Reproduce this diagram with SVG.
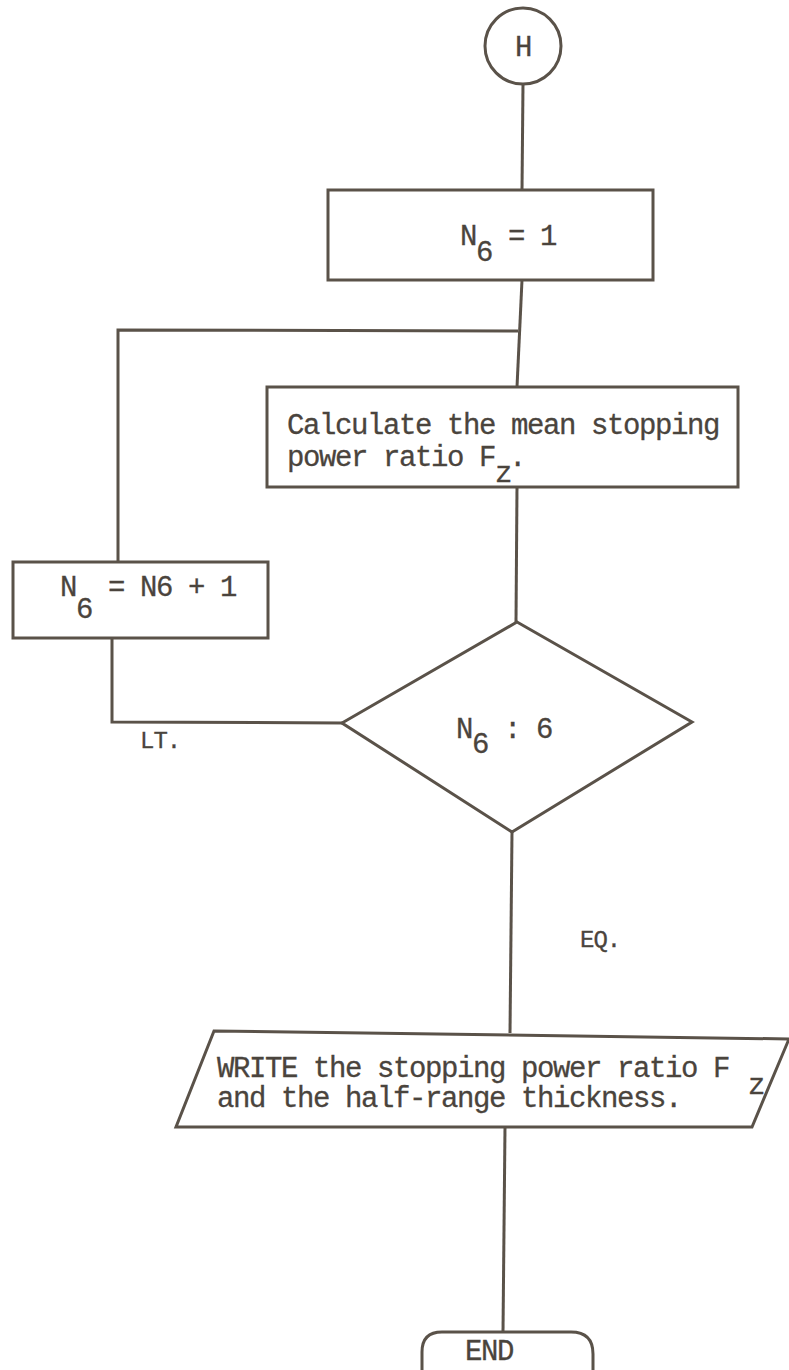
<svg xmlns="http://www.w3.org/2000/svg" width="789" height="1370" viewBox="0 0 789 1370">
<style>
.s{fill:none;stroke:#5a5249;stroke-width:3;stroke-linejoin:miter}
.n{fill:#fff;stroke:#5a5249;stroke-width:3}
.t{font-family:"Liberation Mono","DejaVu Sans Mono",monospace;font-size:29px;letter-spacing:-1.4px;fill:#4a443d;stroke:#4a443d;stroke-width:0.3}
.l{font-family:"Liberation Mono","DejaVu Sans Mono",monospace;font-size:24px;letter-spacing:-1px;fill:#4a443d;stroke:#4a443d;stroke-width:0.3}
</style>
<rect width="789" height="1370" fill="#fff"/>
<g id="connectors">
<line class="s" x1="523" y1="84" x2="522" y2="190"/>
<line class="s" x1="522" y1="280" x2="517" y2="387"/>
<polyline class="s" points="118,562 118,330 518,331"/>
<line class="s" x1="517" y1="487" x2="516" y2="622"/>
<polyline class="s" points="343,723 112,722 112,638"/>
<line class="s" x1="512" y1="832" x2="510" y2="1033"/>
<line class="s" x1="505" y1="1127" x2="503" y2="1332"/>
<text class="l" x="140" y="748">LT.</text>
<text class="l" x="580" y="947">EQ.</text>
</g>
<g id="start">
<circle class="n" cx="523" cy="46" r="38"/>
<text class="t" x="523" y="56" text-anchor="middle">H</text>
</g>
<g id="init">
<rect class="n" x="328" y="190" width="325" height="90"/>
<text class="t" x="460" y="245">N</text>
<text class="t" x="476" y="261">6</text>
<text class="t" x="508" y="245">= 1</text>
</g>
<g id="calc">
<rect class="n" x="267" y="387" width="471" height="100"/>
<text class="t" x="287" y="434">Calculate the mean stopping</text>
<text class="t" x="287" y="466">power ratio F</text>
<text class="t" x="495" y="482">z</text>
<text class="t" x="509" y="466">.</text>
</g>
<g id="incr">
<rect class="n" x="13" y="562" width="255" height="76"/>
<text class="t" x="60" y="596">N</text>
<text class="t" x="76" y="618">6</text>
<text class="t" x="108" y="596">= N6 + 1</text>
</g>
<g id="decision">
<polygon class="n" points="517,622 692,722 512,832 342,723"/>
<text class="t" x="456" y="738">N</text>
<text class="t" x="472" y="753">6</text>
<text class="t" x="504" y="738">: 6</text>
</g>
<g id="write">
<polygon class="n" points="214,1031 789,1039 752,1127 176,1127"/>
<text class="t" x="217" y="1077">WRITE the stopping power ratio F</text>
<text class="t" x="748" y="1094">z</text>
<text class="t" x="217" y="1107">and the half-range thickness.</text>
</g>
<g id="end">
<path class="n" d="M422,1370 L422,1352 Q422,1332 442,1332 L571,1332 Q593,1332 593,1354 L593,1370"/>
<text class="t" x="465" y="1360">END</text>
</g>
</svg>
